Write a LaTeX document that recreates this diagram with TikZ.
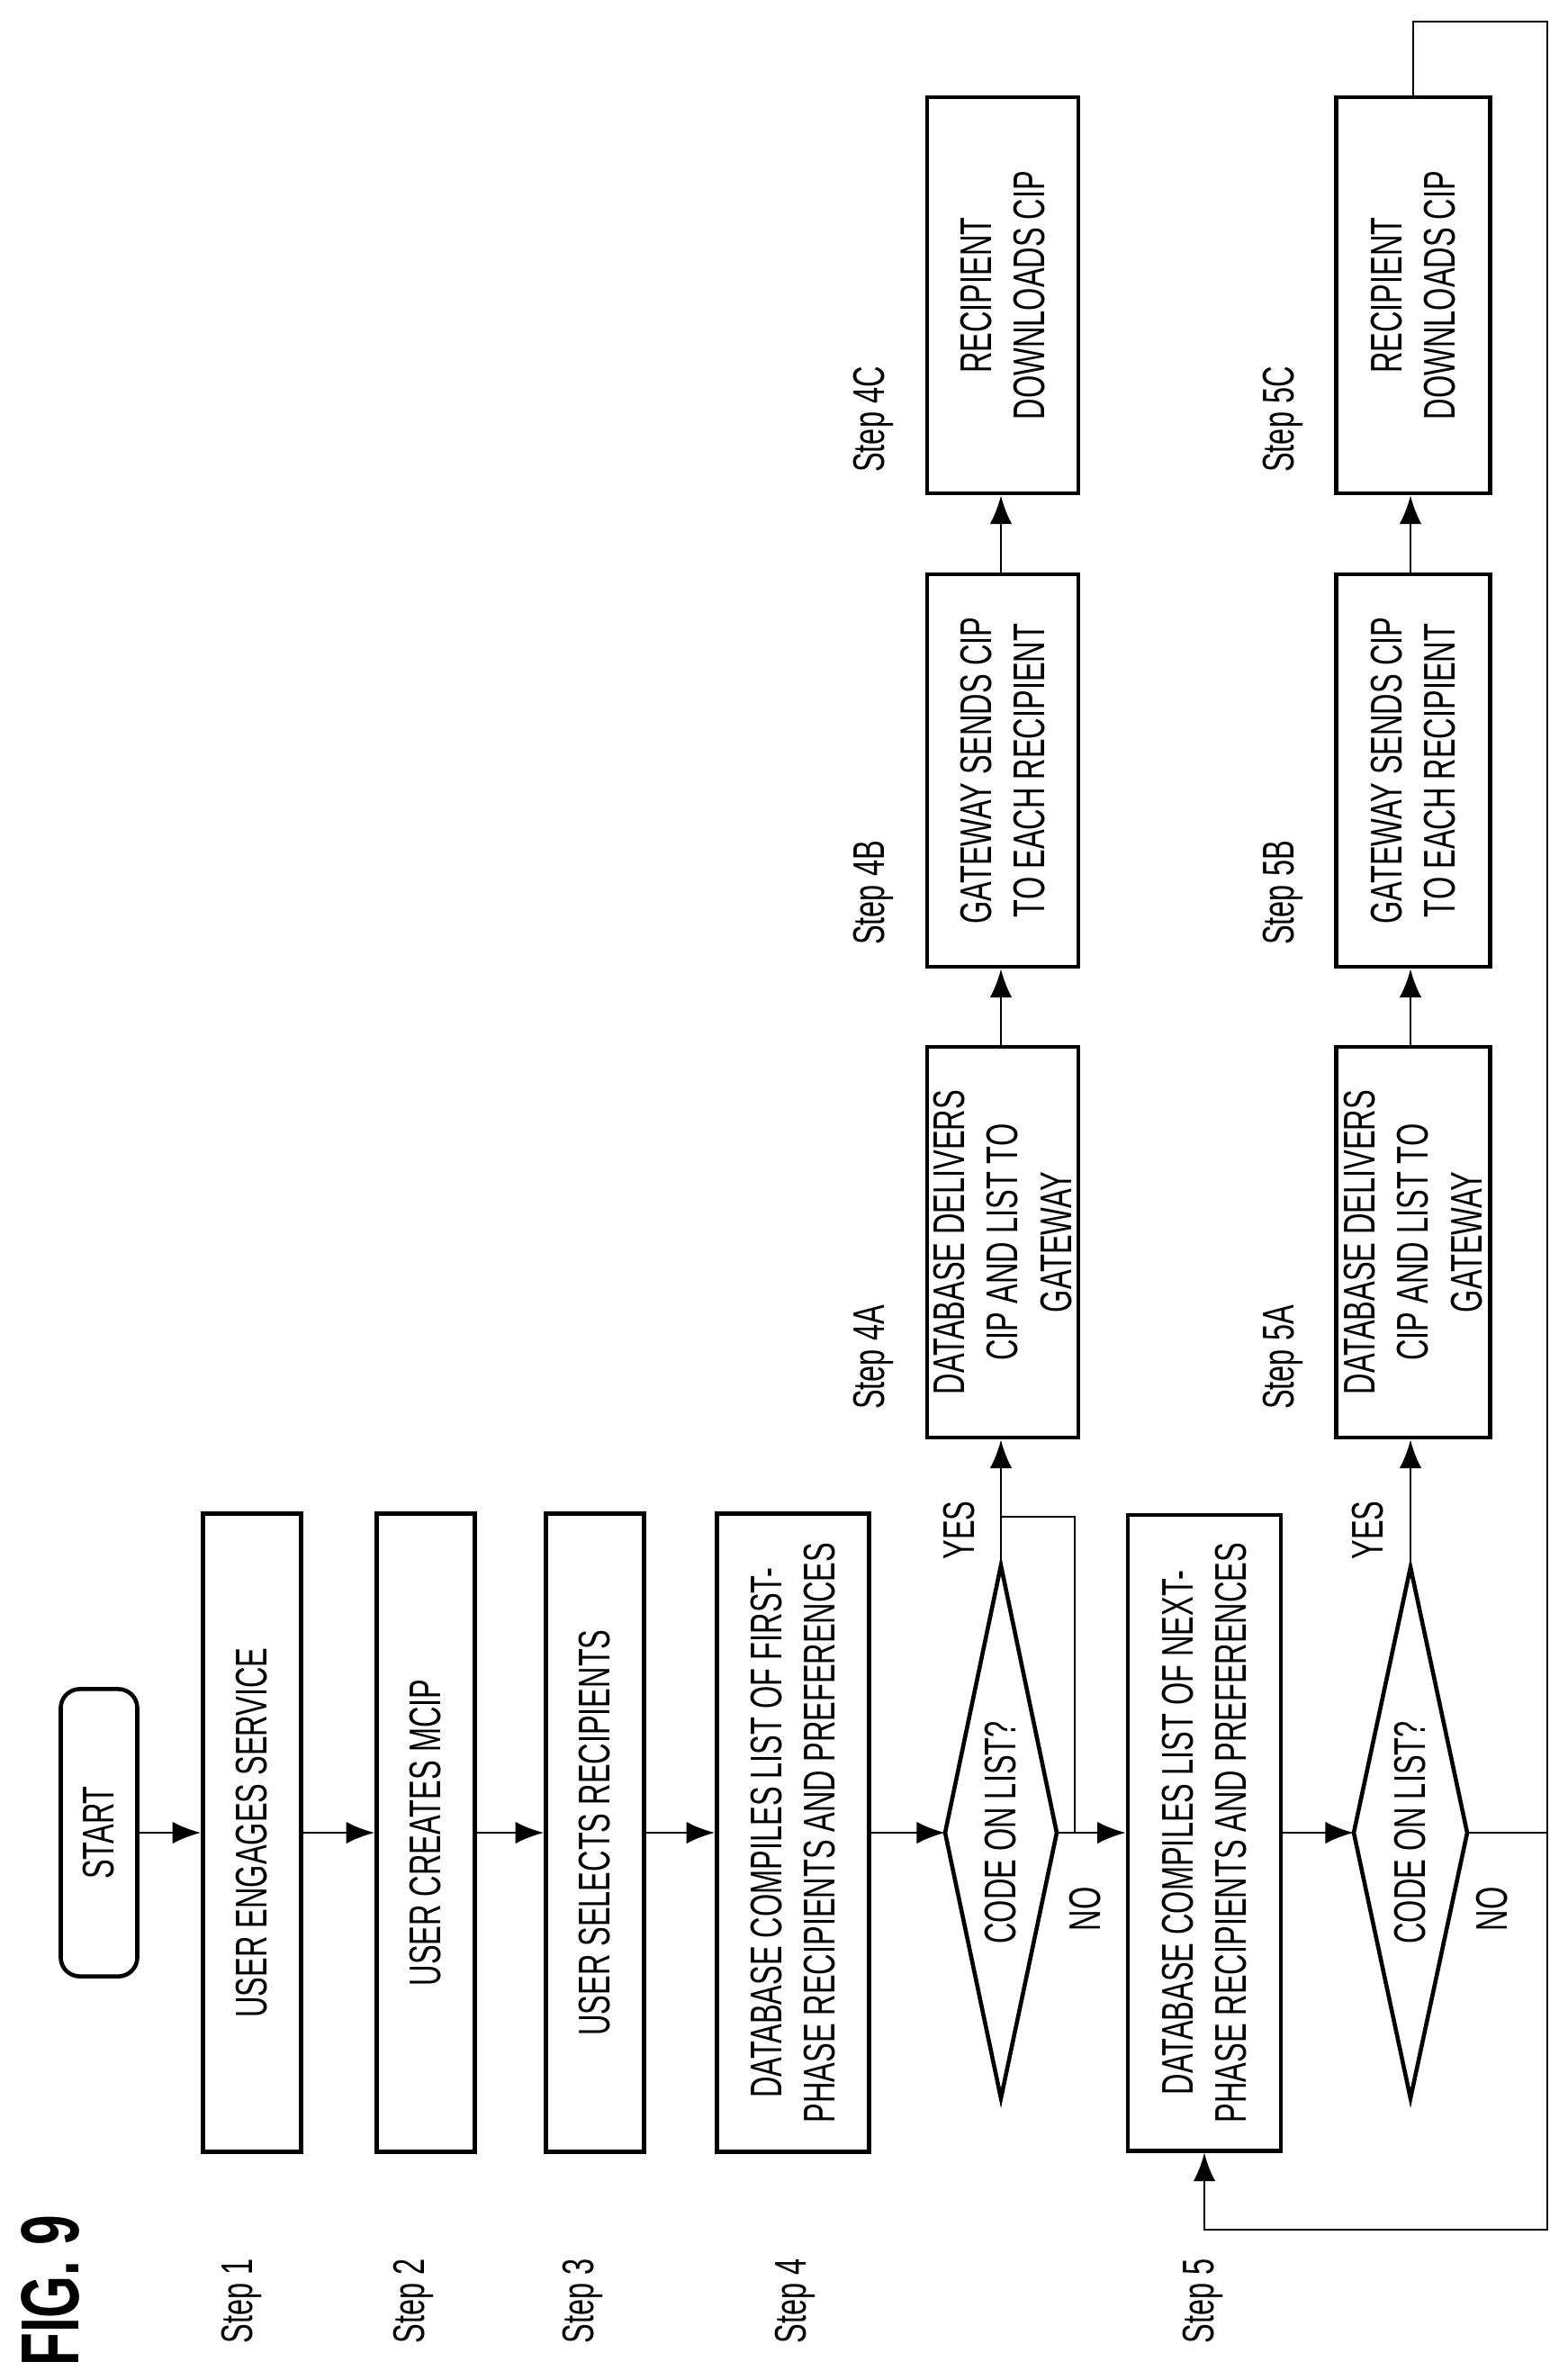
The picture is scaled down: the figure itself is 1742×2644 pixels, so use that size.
\documentclass[tikz,border=0pt]{standalone}
\usepackage{fontspec}
\setmainfont{Liberation Sans}[FakeStretch=0.66]
\usetikzlibrary{arrows.meta}
\begin{document}
\begin{tikzpicture}[x=0.01cm,y=-0.01cm,
  box/.style={draw,line width=1.3pt,rotate=90,inner sep=0pt,align=center,font=\fontsize{14}{17}\selectfont},
  lab/.style={rotate=90,font=\fontsize{14}{17}\selectfont},
  con/.style={line width=0.8pt},
  arr/.style={con,-{Latex[length=9pt,width=7pt]}}]
\useasboundingbox (0,0) rectangle (1742,2644);
\node[rotate=90,font=\bfseries\fontsize{26}{30}\selectfont] (fig) at (56,2545) {FIG. 9};
\foreach \n/\x/\y/\t in {s1/268/2556/Step 1,s2/459/2556/Step 2,s3/647/2556/Step 3,s4/883/2556/Step 4,s5/1336/2556/Step 5,s4a/970/1508/Step 4A,s5a/1425/1508/Step 5A,s4b/970/992/Step 4B,s4c/970/466/Step 4C,s5b/1425/992/Step 5B,s5c/1425/466/Step 5C}
  \node[lab] (\n) at (\x,\y) {\t};

\node[box,rounded corners=6pt,minimum width=3.19cm,minimum height=0.85cm] (start) at (110,2036) {START};
\node[box,minimum width=7.09cm,minimum height=1.09cm] (b1) at (280,2036) {USER ENGAGES SERVICE};
\node[box,minimum width=7.09cm,minimum height=1.09cm] (b2) at (473,2036) {USER CREATES MCIP};
\node[box,minimum width=7.09cm,minimum height=1.09cm] (b3) at (661,2036) {USER SELECTS RECIPIENTS};
\node[box,minimum width=7.09cm,minimum height=1.69cm] (b4) at (881,2036) {DATABASE COMPILES LIST OF FIRST-\\PHASE RECIPIENTS AND PREFERENCES};
\node[box,minimum width=7.06cm,minimum height=1.70cm] (b5) at (1338,2036) {DATABASE COMPILES LIST OF NEXT-\\PHASE RECIPIENTS AND PREFERENCES};

% diamonds
\coordinate (d1t) at (1112,1739); \coordinate (d1r) at (1174,2036);
\coordinate (d1b) at (1112,2331); \coordinate (d1l) at (1050,2036);
\draw[line width=1.3pt,line join=miter] (d1t) -- (d1r) -- (d1b) -- (d1l) -- cycle;
\node[lab] (d1) at (1112,2036) {CODE ON LIST?};
\coordinate (d2t) at (1567,1741); \coordinate (d2r) at (1630,2036);
\coordinate (d2b) at (1567,2331); \coordinate (d2l) at (1504,2036);
\draw[line width=1.3pt,line join=miter] (d2t) -- (d2r) -- (d2b) -- (d2l) -- cycle;
\node[lab] (d2) at (1567,2036) {CODE ON LIST?};

\node[box,minimum width=4.34cm,minimum height=1.68cm] (a4) at (1114,1380) {DATABASE DELIVERS\\CIP AND LIST TO\\GATEWAY};
\node[box,minimum width=4.36cm,minimum height=1.68cm] (bb4) at (1114,856) {GATEWAY SENDS CIP\\TO EACH RECIPIENT};
\node[box,minimum width=4.40cm,minimum height=1.68cm] (c4) at (1114,328) {RECIPIENT\\DOWNLOADS CIP};
\node[box,minimum width=4.34cm,minimum height=1.71cm] (a5) at (1570,1380) {DATABASE DELIVERS\\CIP AND LIST TO\\GATEWAY};
\node[box,minimum width=4.36cm,minimum height=1.71cm] (bb5) at (1570,856) {GATEWAY SENDS CIP\\TO EACH RECIPIENT};
\node[box,minimum width=4.40cm,minimum height=1.71cm] (c5) at (1570,328) {RECIPIENT\\DOWNLOADS CIP};

\node[lab] (yes1) at (1066,1700) {YES};
\node[lab] (yes2) at (1520,1700) {YES};
\node[lab] (no1) at (1206,2121) {NO};
\node[lab] (no2) at (1658,2121) {NO};

\draw[arr] (start) -- (b1);
\draw[arr] (b1) -- (b2);
\draw[arr] (b2) -- (b3);
\draw[arr] (b3) -- (b4);
\draw[arr] (b4.south) -- (d1l);
\draw[arr] (d1r) -- (b5.north);
\draw[arr] (b5.south) -- (d2l);
\draw[arr] (d1t) -- (d1t |- a4.west);
\draw[arr] (d2t) -- (d2t |- a5.west);
\draw[arr] (a4.east -| d1t) -- (d1t |- bb4.west);
\draw[arr] (bb4.east -| d1t) -- (d1t |- c4.west);
\draw[arr] (a5.east -| d2t) -- (d2t |- bb5.west);
\draw[arr] (bb5.east -| d2t) -- (d2t |- c5.west);
\coordinate (n1) at (1112,1685);
\coordinate (n2) at (1194,2036);
\draw[con] (n1) -- (n2 |- n1) -- (n2);
\coordinate (lt) at (1719,24);
\coordinate (lb) at (1719,2477);
\draw[con] (d2r) -- (lb |- d2r);
\draw[arr] (c5.east) -- (c5.east |- lt) -- (lt) -- (lb) -- (b5.west |- lb) -- (b5.west);
\end{tikzpicture}
\end{document}
